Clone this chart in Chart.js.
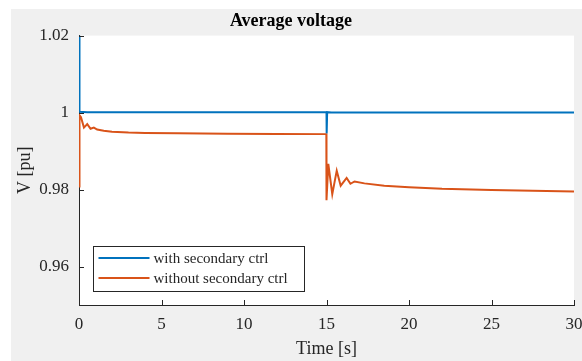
<!DOCTYPE html>
<html>
<head>
<meta charset="utf-8">
<script src="https://cdn.jsdelivr.net/npm/chart.js@4"></script>
<style>
  html, body { margin: 0; padding: 0; background: #ffffff; }
  canvas { display: block; }
</style>
</head>
<body>
<canvas id="voltageChart" width="582" height="361"></canvas>
<script>
// data
var withCtrlTime = [0, 0.03, 0.5, 15, 15.01, 15.04, 15.3, 30];
var withCtrlV = [1.02, 1.0002, 1.0001, 1.0001, 0.9946, 1.0001, 1.0, 1.0];

var withoutCtrlTime = [0, 0.03, 0.12, 0.3, 0.5, 0.7, 0.9, 1.1, 1.5, 2, 3, 4, 6, 9, 12, 14.99,
  15.0, 15.11, 15.35, 15.62, 15.86, 16.22, 16.45, 16.7, 17.3, 18.5, 20, 22, 25, 27.5, 30];
var withoutCtrlV = [0.9808, 0.9993, 0.9988, 0.9961, 0.9970, 0.9958, 0.9961, 0.9956, 0.9953, 0.9950, 0.9948, 0.9947, 0.9946, 0.9945, 0.99445, 0.9944,
  0.9772, 0.9867, 0.9788, 0.9849, 0.9810, 0.9830, 0.9815, 0.9821, 0.9816, 0.9810, 0.9806, 0.9802, 0.9799, 0.9797, 0.9795];

var xTicks = [0, 5, 10, 15, 20, 25, 30];
var yTicks = [0.96, 0.98, 1, 1.02];

var seriesLabels = ["with secondary ctrl", "without secondary ctrl"];

function toPoints(xs, ys) {
  return xs.map(function (x, i) { return { x: x, y: ys[i] }; });
}

var axisColor = "#262626";
var serif = "'Liberation Serif', 'DejaVu Serif', serif";

// matlab-like backgrounds, inward ticks and an inset legend
var figurePlugin = {
  id: "figurePlugin",
  beforeDraw: function (chart) {
    var ctx = chart.ctx, a = chart.chartArea;
    ctx.save();
    ctx.fillStyle = "#ffffff";
    ctx.fillRect(0, 0, chart.width, chart.height);
    ctx.fillStyle = "#f0f0f0";
    ctx.fillRect(11, 9, chart.width - 11, chart.height - 9);
    ctx.fillStyle = "#ffffff";
    ctx.fillRect(a.left, a.top, a.right - a.left, a.bottom - a.top);
    ctx.restore();
  },
  afterDraw: function (chart) {
    var ctx = chart.ctx, a = chart.chartArea;
    var xs = chart.scales.x, ys = chart.scales.y;
    ctx.save();
    ctx.strokeStyle = axisColor;
    ctx.lineWidth = 1;
    ctx.beginPath();
    xTicks.forEach(function (t) {
      var px = Math.round(xs.getPixelForValue(t)) + 0.5;
      ctx.moveTo(px, a.bottom);
      ctx.lineTo(px, a.bottom - 5);
    });
    yTicks.forEach(function (t) {
      var py = Math.round(ys.getPixelForValue(t)) + 0.5;
      ctx.moveTo(a.left, py);
      ctx.lineTo(a.left + 5, py);
    });
    ctx.stroke();

    // legend box
    var bx = a.left + 14.5, by = a.bottom - 58.5, bw = 211, bh = 45;
    ctx.fillStyle = "#ffffff";
    ctx.fillRect(bx, by, bw, bh);
    ctx.strokeStyle = axisColor;
    ctx.strokeRect(bx, by, bw, bh);
    ctx.font = "15px " + serif;
    ctx.textBaseline = "middle";
    ctx.textAlign = "left";
    chart.data.datasets.forEach(function (ds, i) {
      var ly = by + 11.5 + i * 20;
      ctx.strokeStyle = ds.borderColor;
      ctx.lineWidth = 2;
      ctx.beginPath();
      ctx.moveTo(bx + 5, ly);
      ctx.lineTo(bx + 56, ly);
      ctx.stroke();
      ctx.fillStyle = axisColor;
      ctx.fillText(ds.label, bx + 60, ly + 1);
    });
    ctx.restore();
  }
};

var ctx = document.getElementById("voltageChart").getContext("2d");

var voltageChart = new Chart(ctx, {
  type: "line",
  data: {
    datasets: [
      {
        label: seriesLabels[0],
        data: toPoints(withCtrlTime, withCtrlV),
        borderColor: "#0072BD",
        borderWidth: 2,
        pointRadius: 0,
        tension: 0
      },
      {
        label: seriesLabels[1],
        data: toPoints(withoutCtrlTime, withoutCtrlV),
        borderColor: "#D95319",
        borderWidth: 2,
        pointRadius: 0,
        tension: 0
      }
    ]
  },
  options: {
    responsive: false,
    animation: false,
    devicePixelRatio: 1,
    layout: {
      padding: { left: 0, right: 0, top: 0, bottom: 0 }
    },
    plugins: {
      legend: { display: false },
      tooltip: { enabled: false },
      title: {
        display: true,
        text: "Average voltage",
        color: "#000000",
        font: { family: serif, size: 18, weight: "bold" },
        padding: { top: 11, bottom: 3 }
      }
    },
    scales: {
      x: {
        type: "linear",
        min: 0,
        max: 30,
        afterBuildTicks: function (scale) {
          scale.ticks = xTicks.map(function (v) { return { value: v }; });
        },
        afterFit: function (scale) {
          scale.height = 56;
          scale.paddingLeft = 0;
          scale.paddingRight = 8;
        },
        grid: { drawOnChartArea: false, drawTicks: false },
        border: { display: true, color: axisColor, width: 1 },
        ticks: {
          color: axisColor,
          padding: 9,
          maxRotation: 0,
          font: { family: serif, size: 17 }
        },
        title: {
          display: true,
          text: "Time [s]",
          color: axisColor,
          font: { family: serif, size: 18 },
          padding: { top: 0, bottom: 1 }
        }
      },
      y: {
        type: "linear",
        min: 0.95,
        max: 1.02,
        afterBuildTicks: function (scale) {
          scale.ticks = yTicks.map(function (v) { return { value: v }; });
        },
        afterFit: function (scale) { scale.width = 79; },
        grid: { drawOnChartArea: false, drawTicks: false },
        border: { display: true, color: axisColor, width: 1 },
        ticks: {
          color: axisColor,
          padding: 10,
          font: { family: serif, size: 17 },
          callback: function (v) { return String(Math.round(v * 100) / 100); }
        },
        title: {
          display: true,
          text: "V [pu]",
          color: axisColor,
          font: { family: serif, size: 18 },
          padding: { top: 14, bottom: 0 }
        }
      }
    }
  },
  plugins: [figurePlugin]
});
</script>
</body>
</html>
